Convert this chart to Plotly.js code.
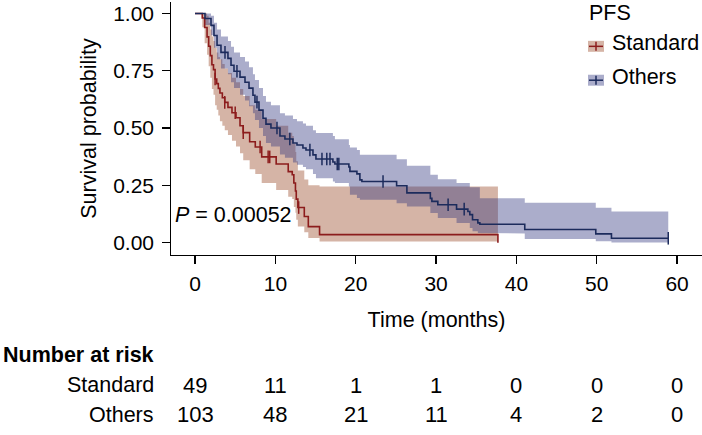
<!DOCTYPE html>
<html>
<head>
<meta charset="utf-8">
<script src="https://cdn.plot.ly/plotly-3.0.1.min.js"></script>
<style>html,body{margin:0;padding:0;background:#fff;}#chart{width:702px;height:435px;}</style>
</head>
<body>
<div id="chart"></div>
<script>
// ---- Data ----
const stdTime  = [0, 0.9, 1.2, 1.5, 1.7, 1.9, 2.1, 2.3, 2.5, 2.7, 2.9, 3.1, 3.4, 3.7, 4.1, 4.6, 5.1, 5.6, 6.0, 6.8, 7.5, 8.3, 10.1, 11.6, 12.1, 12.3, 12.5, 12.6, 12.8, 13.6, 14.1, 15.5, 37.7];
const stdSurv  = [1, 0.98, 0.939, 0.898, 0.857, 0.816, 0.776, 0.755, 0.714, 0.694, 0.673, 0.653, 0.632, 0.612, 0.59, 0.567, 0.545, 0.51, 0.48, 0.44, 0.417, 0.374, 0.343, 0.31, 0.296, 0.26, 0.225, 0.19, 0.153, 0.114, 0.07, 0.035, 0];
const stdUpper = [1, 1, 1, 0.99, 0.96, 0.93, 0.90, 0.88, 0.85, 0.83, 0.81, 0.80, 0.78, 0.76, 0.74, 0.72, 0.70, 0.67, 0.64, 0.60, 0.58, 0.54, 0.51, 0.48, 0.465, 0.43, 0.395, 0.355, 0.315, 0.275, 0.25, 0.245, null];
const stdLower = [1, 0.94, 0.87, 0.82, 0.77, 0.72, 0.67, 0.645, 0.60, 0.58, 0.555, 0.53, 0.51, 0.49, 0.47, 0.445, 0.42, 0.39, 0.36, 0.32, 0.30, 0.26, 0.23, 0.20, 0.19, 0.155, 0.13, 0.10, 0.07, 0.045, 0.02, 0.005, null];
const stdCensor = [2.5, 3.7, 5.0, 6.0, 8.1, 9.1, 9.3, 12.9];
const stdEnd = 37.7;

const othTime  = [0, 1.24, 1.99, 2.36, 2.74, 3.23, 4.10, 4.48, 4.85, 5.60, 6.22, 6.72, 7.21, 7.46, 7.96, 8.46, 8.83, 9.45, 10.57, 11.19, 12.19, 12.69, 13.43, 13.81, 14.68, 15.05, 17.16, 17.41, 19.15, 19.28, 20.15, 20.52, 20.77, 25.09, 26.37, 29.29, 29.48, 30.22, 32.55, 33.96, 34.20, 34.54, 35.20, 35.45, 41.04, 49.88, 51.83];
const othSurv  = [1, 0.978, 0.948, 0.904, 0.861, 0.830, 0.804, 0.774, 0.748, 0.722, 0.700, 0.674, 0.643, 0.613, 0.578, 0.543, 0.517, 0.500, 0.465, 0.452, 0.435, 0.426, 0.413, 0.404, 0.383, 0.365, 0.352, 0.343, 0.330, 0.311, 0.300, 0.274, 0.267, 0.248, 0.217, 0.193, 0.180, 0.165, 0.146, 0.136, 0.122, 0.100, 0.086, 0.080, 0.057, 0.038, 0.019];
const othUpper = [1, 1, 0.99, 0.96, 0.93, 0.90, 0.88, 0.855, 0.83, 0.81, 0.79, 0.765, 0.735, 0.71, 0.675, 0.64, 0.615, 0.60, 0.565, 0.555, 0.54, 0.53, 0.52, 0.51, 0.49, 0.478, 0.465, 0.451, 0.426, 0.415, 0.404, 0.383, 0.383, 0.364, 0.335, 0.296, 0.296, 0.277, 0.260, 0.260, 0.242, 0.242, 0.242, 0.194, 0.174, 0.152, 0.136];
const othLower = [1, 0.95, 0.905, 0.85, 0.80, 0.76, 0.735, 0.70, 0.675, 0.645, 0.62, 0.595, 0.565, 0.535, 0.50, 0.465, 0.435, 0.42, 0.385, 0.37, 0.35, 0.34, 0.33, 0.32, 0.30, 0.281, 0.267, 0.26, 0.245, 0.209, 0.195, 0.187, 0.187, 0.172, 0.158, 0.129, 0.129, 0.107, 0.086, 0.086, 0.064, 0.05, 0.042, 0.04, 0.016, 0.006, 0.001];
const othCensor = [3.73, 5.22, 7.71, 10.2, 11.8, 14.3, 15.8, 16.4, 16.8, 17.7, 17.9, 23.4, 31.5, 33.5, 58.9];
const othEnd = 58.9;

const groupNames = ['Standard', 'Others'];
const legendTitle = 'PFS';
const pValueText = '<i>P</i> = 0.00052';
const riskTimes = [0, 10, 20, 30, 40, 50, 60];
const riskStandard = [49, 11, 1, 1, 0, 0, 0];
const riskOthers = [103, 48, 21, 11, 4, 2, 0];
const xTicks = [0, 10, 20, 30, 40, 50, 60];
const yTicks = [0, 0.25, 0.5, 0.75, 1];
const yTickText = ['0.00', '0.25', '0.50', '0.75', '1.00'];

// ---- Styles ----
const FONT = 'Liberation Sans, Arial, Helvetica, sans-serif';
const redLine = '#8C1C1C';
const blueLine = '#1C2B5C';
const redFill = 'rgba(150,68,32,0.40)';
const blueFill = 'rgba(44,50,124,0.40)';

// ---- helpers ----
function stepXY(t, v, tEnd) {
  const xs = [], ys = [];
  let k = -1;
  for (let i = 0; i < t.length; i++) {
    if (v[i] === null || v[i] === undefined) break;
    if (i > 0) { xs.push(t[i]); ys.push(v[i - 1]); }
    xs.push(t[i]); ys.push(v[i]);
    k = i;
  }
  if (tEnd > t[k]) { xs.push(tEnd); ys.push(v[k]); }
  return {x: xs, y: ys};
}
function survAt(t, s, time) {
  let val = s[0];
  for (let i = 0; i < t.length; i++) { if (t[i] <= time) val = s[i]; }
  return val;
}
function bandTraces(t, lo, up, tEnd, fill) {
  const L = stepXY(t, lo, tEnd), U = stepXY(t, up, tEnd);
  return [
    {x: L.x, y: L.y, mode: 'lines', line: {width: 0, color: 'rgba(0,0,0,0)'}, hoverinfo: 'skip', showlegend: false},
    {x: U.x, y: U.y, mode: 'lines', line: {width: 0, color: 'rgba(0,0,0,0)'}, fill: 'tonexty', fillcolor: fill, hoverinfo: 'skip', showlegend: false}
  ];
}
function curveTrace(t, s, tEnd, color) {
  const P = stepXY(t, s, tEnd);
  return {x: P.x, y: P.y, mode: 'lines', line: {color: color, width: 1.6}, showlegend: false, hoverinfo: 'skip'};
}
function censorTrace(t, s, c, color) {
  return {x: c, y: c.map(v => survAt(t, s, v)), mode: 'markers',
    marker: {symbol: 'line-ns', size: 9, line: {color: color, width: 1.5}, color: color},
    showlegend: false, hoverinfo: 'skip'};
}

const traces = [].concat(
  bandTraces(stdTime, stdLower, stdUpper, stdEnd, redFill),
  bandTraces(othTime, othLower, othUpper, othEnd, blueFill),
  [curveTrace(stdTime, stdSurv, stdEnd, redLine),
   censorTrace(stdTime, stdSurv, stdCensor, redLine),
   curveTrace(othTime, othSurv, othEnd, blueLine),
   censorTrace(othTime, othSurv, othCensor, blueLine)]
);

// pixel -> paper helpers (plot area: x 171..702, y 1.5..255.4)
const PL = 171, PW = 531, PT = 1.5, PB = 255.4, PH = PB - PT;
const px = v => (v - PL) / PW;
const py = v => (PB - v) / PH;

const annotations = [];
const shapes = [];
annotations.push({text: pValueText, xref: 'paper', yref: 'paper', x: px(173), y: py(215), xanchor: 'left', yanchor: 'middle', showarrow: false, font: {family: FONT, size: 21.5, color: '#000'}});
annotations.push({text: legendTitle, xref: 'paper', yref: 'paper', x: px(587), y: py(12.5), xanchor: 'left', yanchor: 'middle', showarrow: false, font: {family: FONT, size: 21.5, color: '#000'}});
const legRows = [{name: groupNames[0], ty: 43, ky: 46, fill: redFill, line: redLine}, {name: groupNames[1], ty: 76.5, ky: 80, fill: blueFill, line: blueLine}];
legRows.forEach(r => {
  annotations.push({text: r.name, xref: 'paper', yref: 'paper', x: px(610), y: py(r.ty), xanchor: 'left', yanchor: 'middle', showarrow: false, font: {family: FONT, size: 21.5, color: '#000'}});
  shapes.push({type: 'rect', xref: 'paper', yref: 'paper', x0: px(588), x1: px(604), y0: py(r.ky - 5.5), y1: py(r.ky + 5.5), fillcolor: r.fill, line: {width: 0}});
  shapes.push({type: 'line', xref: 'paper', yref: 'paper', x0: px(589), x1: px(603), y0: py(r.ky), y1: py(r.ky), line: {color: r.line, width: 1.5}});
  shapes.push({type: 'line', xref: 'paper', yref: 'paper', x0: px(596), x1: px(596), y0: py(r.ky - 4.5), y1: py(r.ky + 4.5), line: {color: r.line, width: 1.5}});
});
annotations.push({text: '<b>Number at risk</b>', xref: 'paper', yref: 'paper', x: px(1), y: py(356), xanchor: 'left', yanchor: 'middle', showarrow: false, font: {family: FONT, size: 21.5, color: '#000'}});
const riskRows = [{name: groupNames[0], vals: riskStandard, y: 386}, {name: groupNames[1], vals: riskOthers, y: 415.5}];
riskRows.forEach(r => {
  annotations.push({text: r.name, xref: 'paper', yref: 'paper', x: px(156), y: py(r.y), xanchor: 'right', yanchor: 'middle', showarrow: false, font: {family: FONT, size: 21.5, color: '#000'}});
  r.vals.forEach((v, i) => {
    annotations.push({text: String(v), xref: 'x', yref: 'paper', x: riskTimes[i], y: py(r.y), xanchor: 'center', yanchor: 'middle', showarrow: false, font: {family: FONT, size: 22, color: '#000'}});
  });
});

const layout = {
  width: 702, height: 435,
  margin: {l: PL, r: 0, t: PT, b: 435 - PB, pad: 0},
  paper_bgcolor: '#fff', plot_bgcolor: '#fff',
  showlegend: false,
  font: {family: FONT, color: '#000'},
  xaxis: {range: [-2.99, 63.1], tickvals: xTicks, showline: true, linecolor: '#000', linewidth: 1.3,
    ticks: 'outside', ticklen: 7.5, tickwidth: 1.3, tickcolor: '#000', showgrid: false, zeroline: false,
    ticklabelstandoff: 2,
    tickfont: {family: FONT, size: 21, color: '#000'},
    title: {text: 'Time (months)', font: {family: FONT, size: 21.5, color: '#000'}, standoff: 18}},
  yaxis: {range: [-0.054, 1.05], tickvals: yTicks, ticktext: yTickText, showline: true, linecolor: '#000', linewidth: 1.3,
    ticks: 'outside', ticklen: 7.5, tickwidth: 1.3, tickcolor: '#000', showgrid: false, zeroline: false,
    ticklabelstandoff: 4,
    tickfont: {family: FONT, size: 21, color: '#000'},
    title: {text: 'Survival probability', font: {family: FONT, size: 21.5, color: '#000'}, standoff: 10}},
  annotations: annotations,
  shapes: shapes
};

Plotly.newPlot('chart', traces, layout, {displayModeBar: false, staticPlot: true});
</script>
</body>
</html>
